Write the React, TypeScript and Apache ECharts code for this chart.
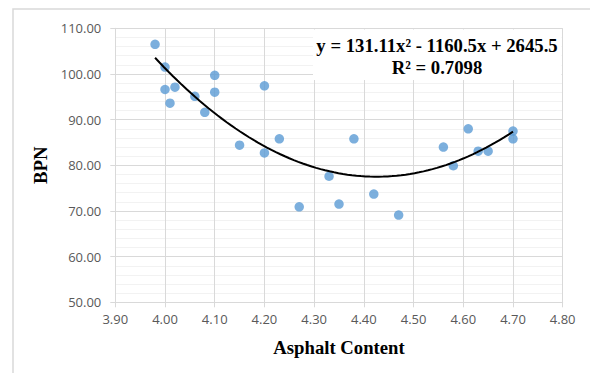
import React, { useEffect, useRef } from "react";
import * as echarts from "echarts";

const asphaltContent = [3.98, 4.0, 4.0, 4.02, 4.01, 4.06, 4.08, 4.1, 4.1, 4.15, 4.2, 4.2, 4.23, 4.27, 4.33, 4.35, 4.38, 4.42, 4.47, 4.56, 4.58, 4.61, 4.63, 4.65, 4.7, 4.7];
const bpnValues = [106.5, 101.5, 96.6, 97.1, 93.6, 95.1, 91.6, 99.7, 96.0, 84.4, 97.4, 82.7, 85.8, 70.9, 77.6, 71.5, 85.8, 73.7, 69.1, 84.0, 79.9, 88.0, 83.1, 83.1, 87.5, 85.8];

// Polynomial trendline coefficients as shown in the chart label
const trendCoefficients = [131.11, -1160.5, 2645.5];
const equationText = "y = 131.11x² - 1160.5x + 2645.5";
const r2Text = "R² = 0.7098";

const xTitle = "Asphalt Content";
const yTitle = "BPN";

export default function App() {
  const ref = useRef<HTMLDivElement>(null);

  useEffect(() => {
    if (!ref.current) return;
    const chart = echarts.init(ref.current, undefined, { renderer: "svg" });

    const points = asphaltContent.map((x, i) => [x, bpnValues[i]]);
    const xMin = Math.min(...asphaltContent);
    const xMax = Math.max(...asphaltContent);
    const trend: number[][] = [];
    const steps = 80;
    for (let i = 0; i <= steps; i++) {
      const x = xMin + ((xMax - xMin) * i) / steps;
      const [a, b, c] = trendCoefficients;
      trend.push([x, a * x * x + b * x + c]);
    }

    const tickFont = { fontFamily: "Open Sans", fontSize: 13, color: "#595959" };
    const titleFont = { fontFamily: "Liberation Serif", fontSize: 18.7, fontWeight: "bold" as const, color: "#000" };

    chart.setOption({
      animation: false,
      backgroundColor: "#fff",
      grid: { left: 115.3, right: 27.3, top: 28.3, bottom: 70.7, containLabel: false },
      xAxis: {
        type: "value",
        min: 3.9,
        max: 4.8,
        interval: 0.1,
        name: xTitle,
        nameLocation: "middle",
        nameGap: 36,
        nameTextStyle: titleFont,
        axisLine: { show: true, lineStyle: { color: "#D9D9D9", width: 1 } },
        axisTick: { show: true, length: 5, lineStyle: { color: "#D9D9D9" } },
        axisLabel: { ...tickFont, margin: 10, formatter: (v: number) => v.toFixed(2) },
        splitLine: { show: true, lineStyle: { color: "#D9D9D9", width: 1 } },
      },
      yAxis: {
        type: "value",
        min: 50,
        max: 110,
        interval: 10,
        name: yTitle,
        nameLocation: "middle",
        nameGap: 61,
        nameTextStyle: titleFont,
        axisLine: { show: true, lineStyle: { color: "#D9D9D9", width: 1 } },
        axisTick: { show: true, length: 5, lineStyle: { color: "#D9D9D9" } },
        axisLabel: { ...tickFont, margin: 14, formatter: (v: number) => v.toFixed(2) },
        splitLine: { show: true, lineStyle: { color: "#D9D9D9", width: 1 } },
        minorTick: { show: false, splitNumber: 5 },
        minorSplitLine: { show: true, lineStyle: { color: "#F2F2F2", width: 1 } },
      },
      series: [
        {
          type: "scatter",
          data: points,
          symbol: "circle",
          symbolSize: 9.5,
          itemStyle: { color: "#5B9BD5" },
          z: 2,
        },
        {
          type: "line",
          data: trend,
          showSymbol: false,
          symbol: "none",
          lineStyle: { color: "#000", width: 2 },
          z: 3,
        },
      ],
      graphic: [
        {
          type: "rect",
          shape: { x: 13, y: 9, width: 700, height: 500 },
          style: { fill: "none", stroke: "#D9D9D9", lineWidth: 1.5 },
          silent: true,
          z: 1,
        },
        {
          type: "rect",
          shape: { x: 313, y: 29.5, width: 248.5, height: 50.5 },
          style: { fill: "#fff" },
          silent: true,
          z: 10,
        },
        {
          type: "text",
          x: 437,
          y: 45,
          style: { text: equationText, ...titleFont, fill: "#000", textAlign: "center", textVerticalAlign: "middle", verticalAlign: "middle" },
          z: 11,
        },
        {
          type: "text",
          x: 437,
          y: 67,
          style: { text: r2Text, ...titleFont, fill: "#000", textAlign: "center", textVerticalAlign: "middle", verticalAlign: "middle" },
          z: 11,
        },
      ],
    });

    return () => chart.dispose();
  }, []);

  return (
    <div
      ref={ref}
      style={{ position: "absolute", left: 0, top: 0, width: 590, height: 373, background: "#fff" }}
    />
  );
}
